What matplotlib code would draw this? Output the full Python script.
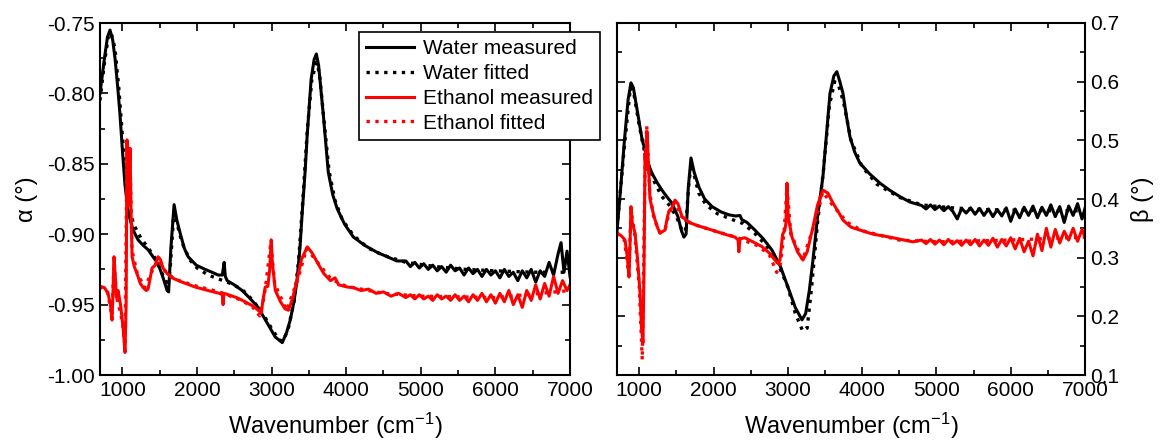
import matplotlib.pyplot as plt
from matplotlib.ticker import MultipleLocator

plt.rcParams['font.family'] = ['Liberation Sans', 'DejaVu Sans']
plt.rcParams['mathtext.default'] = 'regular'

# ---- alpha (left panel) ----
wn_a_wm = [700, 760, 800, 834, 870, 901, 940, 968, 1000, 1035, 1080, 1143, 1210, 1280, 1344, 1410,
           1478, 1540, 1600, 1620, 1650, 1693, 1730, 1773, 1830, 1881, 1990, 2110, 2200, 2284, 2340,
           2364, 2380, 2405, 2500, 2606, 2700, 2820, 2940, 3049, 3143, 3200, 3250, 3300, 3340, 3380,
           3410, 3450, 3477, 3530, 3570, 3600, 3630, 3693, 3760, 3820, 3880, 3980, 4096, 4250, 4418,
           4550, 4680,
           4800, 4860, 4920, 4980, 5040, 5100, 5160, 5220, 5280, 5340, 5400, 5460, 5520, 5580, 5640,
           5700, 5760, 5820, 5880, 5940, 6000, 6060, 6120, 6180, 6240, 6300, 6360, 6420, 6480, 6540,
           6600, 6660, 6720, 6780, 6840, 6880, 6920, 6960, 7000]
alpha_wm = [-0.800, -0.775, -0.760, -0.755, -0.762, -0.775, -0.797, -0.815, -0.840, -0.865, -0.885,
            -0.897, -0.904, -0.908, -0.911, -0.916, -0.921, -0.930, -0.940, -0.941, -0.910, -0.879,
            -0.890, -0.899, -0.910, -0.916, -0.922, -0.925, -0.927, -0.929, -0.929, -0.920, -0.930,
            -0.933, -0.936, -0.940, -0.945, -0.952, -0.963, -0.973, -0.977, -0.970, -0.961, -0.948,
            -0.933, -0.910, -0.885, -0.855, -0.830, -0.790, -0.776, -0.772, -0.780, -0.815, -0.856,
            -0.872, -0.882, -0.893, -0.902, -0.908, -0.913, -0.916, -0.919,
            -0.919, -0.923, -0.920, -0.924, -0.921, -0.925, -0.922, -0.926, -0.923, -0.927, -0.922,
            -0.926, -0.924, -0.929, -0.924, -0.928, -0.925, -0.930, -0.925, -0.929, -0.926, -0.931,
            -0.925, -0.930, -0.927, -0.933, -0.926, -0.931, -0.925, -0.934, -0.926, -0.930, -0.920,
            -0.929, -0.914, -0.906, -0.927, -0.912, -0.930]

wn_a_wf = [700, 760, 810, 850, 900, 950, 1000, 1050, 1100, 1150, 1250, 1350, 1450, 1550, 1610, 1640,
           1690, 1740, 1800, 1900, 2000, 2150, 2300, 2450, 2600, 2750, 2900, 3000, 3100, 3150, 3220,
           3300, 3360, 3420, 3480, 3540, 3600, 3640, 3700, 3770, 3850, 3950, 4100, 4300, 4500, 4800,
           5200, 5600, 6000, 6500, 7000]
alpha_wf = [-0.805, -0.778, -0.760, -0.757, -0.768, -0.795, -0.830, -0.862, -0.882, -0.893, -0.903,
            -0.910, -0.918, -0.930, -0.937, -0.925, -0.884, -0.894, -0.906, -0.918, -0.924, -0.929,
            -0.932, -0.935, -0.939, -0.947, -0.958, -0.967, -0.975, -0.976, -0.968, -0.948, -0.920,
            -0.875, -0.825, -0.790, -0.778, -0.785, -0.818, -0.855, -0.876, -0.890, -0.901, -0.910,
            -0.915, -0.920, -0.923, -0.925, -0.926, -0.927, -0.927]

wn_a_em = [700, 760, 807, 840, 861, 875, 888, 905, 920, 942, 975, 1009, 1035, 1050, 1062, 1075, 1090,
           1103, 1115, 1130, 1160, 1196, 1240, 1280, 1320, 1344, 1370, 1398, 1440, 1478, 1510, 1545,
           1600, 1666, 1800, 1975, 2150, 2300, 2340, 2350, 2360, 2420, 2530, 2646, 2750, 2820, 2860,
           2890, 2915, 2950, 2975, 2995, 3010, 3050, 3120, 3180, 3225, 3280, 3340, 3400, 3478, 3540,
           3612, 3700, 3790, 3850, 3900, 4015,
           4100, 4200, 4300, 4400, 4500, 4600, 4700, 4800, 4860, 4920, 4980, 5040, 5100, 5160, 5220,
           5280, 5340, 5400, 5460, 5520, 5580, 5640, 5700, 5760, 5820, 5880, 5940, 6000, 6060, 6120,
           6180, 6240, 6300, 6360, 6420, 6480, 6540, 6600, 6660, 6720, 6780, 6840, 6900, 6960, 7000]
alpha_em = [-0.937, -0.938, -0.942, -0.950, -0.961, -0.940, -0.916, -0.930, -0.945, -0.940, -0.950,
            -0.966, -0.984, -0.950, -0.833, -0.880, -0.860, -0.839, -0.880, -0.916, -0.923, -0.928,
            -0.935, -0.938, -0.940, -0.939, -0.932, -0.924, -0.922, -0.916, -0.918, -0.924, -0.928,
            -0.931, -0.934, -0.9375, -0.940, -0.942, -0.943, -0.950, -0.942, -0.943, -0.945, -0.948,
            -0.951, -0.954, -0.956, -0.945, -0.9375, -0.937, -0.925, -0.904, -0.920, -0.940, -0.948,
            -0.953, -0.954, -0.946, -0.933, -0.918, -0.909, -0.913, -0.920, -0.928, -0.933, -0.931,
            -0.936, -0.9375,
            -0.938, -0.940, -0.939, -0.942, -0.941, -0.944, -0.942, -0.945, -0.943, -0.946, -0.943,
            -0.946, -0.944, -0.947, -0.943, -0.946, -0.944, -0.947, -0.943, -0.947, -0.944, -0.948,
            -0.943, -0.947, -0.942, -0.948, -0.943, -0.949, -0.942, -0.948, -0.940, -0.950, -0.943,
            -0.952, -0.940, -0.947, -0.936, -0.946, -0.935, -0.944, -0.930, -0.942, -0.933, -0.940,
            -0.936]

wn_a_ef = [700, 800, 860, 888, 920, 1000, 1035, 1060, 1100, 1130, 1200, 1300, 1400, 1480, 1550, 1700,
           2000, 2300, 2600, 2750, 2840, 2880, 2920, 2990, 3040, 3200, 3340, 3470, 3600, 3800, 4000,
           4500, 5000, 6000, 7000]
alpha_ef = [-0.937, -0.941, -0.958, -0.920, -0.944, -0.962, -0.980, -0.850, -0.842, -0.912, -0.928,
            -0.938, -0.926, -0.918, -0.925, -0.932, -0.937, -0.941, -0.947, -0.952, -0.958, -0.950,
            -0.937, -0.906, -0.935, -0.954, -0.934, -0.910, -0.919, -0.932, -0.937, -0.942, -0.944,
            -0.945, -0.940]

# ---- beta (right panel) ----
wn_b_wm = [700, 750, 800, 850, 888, 920, 960, 1000, 1040, 1077, 1120, 1171, 1240, 1306, 1370, 1440,
           1520, 1570, 1600, 1630, 1660, 1696, 1740, 1804, 1880, 1980, 2100, 2207, 2300, 2355, 2380,
           2450, 2557, 2670, 2786, 2900, 3015, 3100, 3190, 3240, 3290, 3338, 3400, 3472, 3520, 3567,
           3620, 3660, 3700, 3742, 3790, 3836, 3900, 3970, 4100, 4240, 4370, 4509, 4640,
           4800, 4860, 4920, 4980, 5040, 5100, 5160, 5220, 5280, 5340, 5400, 5460, 5520, 5580, 5640,
           5700, 5760, 5820, 5880, 5940, 6000, 6060, 6120, 6180, 6240, 6300, 6360, 6420, 6480, 6540,
           6600, 6660, 6720, 6780, 6840, 6900, 6960, 7000]
beta_wm = [0.345, 0.420, 0.500, 0.570, 0.598, 0.590, 0.560, 0.530, 0.500, 0.484, 0.460, 0.444, 0.428,
           0.415, 0.404, 0.393, 0.370, 0.345, 0.335, 0.340, 0.420, 0.470, 0.445, 0.420, 0.400, 0.387,
           0.378, 0.373, 0.371, 0.372, 0.365, 0.360, 0.347, 0.332, 0.313, 0.285, 0.245, 0.215, 0.194,
           0.205, 0.245, 0.296, 0.370, 0.438, 0.510, 0.580, 0.610, 0.617, 0.600, 0.580, 0.540, 0.506,
           0.480, 0.461, 0.443, 0.427, 0.415, 0.404, 0.395,
           0.389, 0.383, 0.390, 0.382, 0.388, 0.380, 0.387, 0.379, 0.366, 0.384, 0.376, 0.385, 0.374,
           0.384, 0.372, 0.383, 0.370, 0.382, 0.371, 0.385, 0.362, 0.383, 0.368, 0.386, 0.372, 0.388,
           0.368, 0.386, 0.372, 0.390, 0.370, 0.387, 0.360, 0.388, 0.372, 0.392, 0.366, 0.384]

wn_b_wf = [700, 800, 880, 920, 1000, 1080, 1200, 1300, 1400, 1500, 1580, 1620, 1670, 1700, 1800,
           1900, 2050, 2250, 2400, 2550, 2700, 2850, 3000, 3100, 3200, 3260, 3320, 3400, 3480, 3560,
           3630, 3680, 3750, 3850, 4000, 4200, 4500, 4800, 5200, 5600, 6000, 6500, 7000]
beta_wf = [0.350, 0.490, 0.590, 0.585, 0.525, 0.475, 0.430, 0.405, 0.390, 0.370, 0.345, 0.345, 0.430,
           0.460, 0.410, 0.390, 0.375, 0.365, 0.358, 0.342, 0.322, 0.295, 0.250, 0.205, 0.175, 0.180,
           0.250, 0.360, 0.450, 0.560, 0.600, 0.595, 0.565, 0.500, 0.455, 0.425, 0.403, 0.390, 0.385,
           0.382, 0.381, 0.380, 0.380]

wn_b_em = [700, 760, 808, 840, 861, 875, 888, 905, 942, 975, 1010, 1030, 1050, 1065, 1077, 1090,
           1104, 1120, 1144, 1180, 1211, 1250, 1279, 1320, 1346, 1380, 1400, 1440, 1480, 1520, 1575,
           1670, 1800, 1980, 2150, 2290, 2330, 2340, 2355, 2420, 2530, 2650, 2750, 2826, 2870, 2894,
           2930, 2960, 2975, 2988, 3005, 3055, 3130, 3203, 3260, 3338, 3400, 3472, 3540, 3607, 3680,
           3742, 3850, 3970, 4150, 4374, 4683,
           4800, 4860, 4920, 4980, 5040, 5100, 5160, 5220, 5280, 5340, 5400, 5460, 5520, 5580, 5640,
           5700, 5760, 5820, 5880, 5940, 6000, 6060, 6120, 6180, 6240, 6300, 6360, 6420, 6480, 6540,
           6600, 6660, 6720, 6780, 6840, 6900, 6960, 7000]
beta_em = [0.342, 0.337, 0.330, 0.300, 0.267, 0.320, 0.387, 0.360, 0.342, 0.300, 0.240, 0.180, 0.155,
           0.300, 0.478, 0.450, 0.515, 0.470, 0.400, 0.380, 0.365, 0.350, 0.342, 0.345, 0.347, 0.370,
           0.380, 0.385, 0.398, 0.392, 0.370, 0.360, 0.354, 0.347, 0.340, 0.335, 0.330, 0.310, 0.332,
           0.334, 0.327, 0.319, 0.308, 0.296, 0.290, 0.296, 0.340, 0.347, 0.360, 0.427, 0.370, 0.335,
           0.310, 0.296, 0.310, 0.352, 0.390, 0.415, 0.410, 0.393, 0.378, 0.364, 0.352, 0.347, 0.340,
           0.335, 0.327,
           0.330, 0.324, 0.331, 0.323, 0.330, 0.322, 0.331, 0.323, 0.329, 0.321, 0.330, 0.322, 0.331,
           0.320, 0.330, 0.321, 0.333, 0.318, 0.331, 0.320, 0.334, 0.315, 0.333, 0.310, 0.328, 0.303,
           0.340, 0.312, 0.350, 0.318, 0.348, 0.325, 0.345, 0.330, 0.350, 0.328, 0.348, 0.335]

wn_b_ef = [700, 800, 860, 888, 940, 1000, 1040, 1060, 1080, 1100, 1140, 1200, 1280, 1350, 1400, 1480,
           1570, 1700, 2000, 2300, 2600, 2750, 2850, 2900, 2950, 2988, 3040, 3200, 3340, 3470, 3600,
           3800, 4000, 4500, 5000, 6000, 7000]
beta_ef = [0.342, 0.330, 0.270, 0.380, 0.340, 0.250, 0.126, 0.300, 0.470, 0.525, 0.410, 0.365, 0.342,
           0.350, 0.375, 0.395, 0.370, 0.358, 0.346, 0.335, 0.320, 0.305, 0.275, 0.290, 0.345, 0.420,
           0.340, 0.296, 0.350, 0.412, 0.390, 0.360, 0.346, 0.330, 0.327, 0.330, 0.335]

W, H = 1161, 444
fig = plt.figure(figsize=(W / 100, H / 100), dpi=100)
ax1 = fig.add_axes([100 / W, 69 / H, 470 / W, 352 / H])
ax2 = fig.add_axes([617 / W, 69 / H, 468 / W, 352 / H])

lw = 2.2
ax1.plot(wn_a_wm, alpha_wm, color='black', lw=lw, label='Water measured')
ax1.plot(wn_a_wf, alpha_wf, color='black', lw=2.4, ls=':', label='Water fitted')
ax1.plot(wn_a_em, alpha_em, color='red', lw=lw, label='Ethanol measured')
ax1.plot(wn_a_ef, alpha_ef, color='red', lw=2.4, ls=':', label='Ethanol fitted')

ax2.plot(wn_b_wm, beta_wm, color='black', lw=lw)
ax2.plot(wn_b_wf, beta_wf, color='black', lw=2.4, ls=':')
ax2.plot(wn_b_em, beta_em, color='red', lw=lw)
ax2.plot(wn_b_ef, beta_ef, color='red', lw=2.4, ls=':')

ax1.set_ylim(-1.00, -0.75)
ax1.yaxis.set_major_locator(MultipleLocator(0.05))
ax1.yaxis.set_minor_locator(MultipleLocator(0.025))
ax1.yaxis.set_major_formatter(plt.FormatStrFormatter('%.2f'))
ax1.set_ylabel('α (°)', fontsize=17, labelpad=6)

ax2.set_ylim(0.1, 0.7)
ax2.yaxis.set_major_locator(MultipleLocator(0.1))
ax2.yaxis.set_minor_locator(MultipleLocator(0.05))
ax2.yaxis.set_major_formatter(plt.FormatStrFormatter('%.1f'))
ax2.yaxis.set_label_position('right')
ax2.set_ylabel('β (°)', fontsize=17, labelpad=8)

for ax in (ax1, ax2):
    ax.set_xlim(700, 7000)
    ax.xaxis.set_major_locator(MultipleLocator(1000))
    ax.xaxis.set_minor_locator(MultipleLocator(500))
    ax.set_xlabel('Wavenumber (cm$^{-1}$)', fontsize=17, labelpad=8)
    ax.tick_params(which='both', direction='in', top=True, right=True, labelsize=15, width=1.2)
    ax.tick_params(which='major', length=6, pad=4)
    ax.tick_params(which='minor', length=3.5)
    for s in ax.spines.values():
        s.set_linewidth(1.5)

ax2.tick_params(axis='y', which='both', left=True, right=True, labelleft=False, labelright=True)

leg = ax1.legend(loc='upper right', bbox_to_anchor=(600 / W, 1 - 32 / H),
                 bbox_transform=fig.transFigure, borderaxespad=0, fontsize=15,
                 fancybox=False, framealpha=1, edgecolor='black', handlelength=2.3,
                 borderpad=0.35, labelspacing=0.28, handletextpad=0.4)
leg.get_frame().set_linewidth(1.2)

fig.savefig('out.png', dpi=100)
